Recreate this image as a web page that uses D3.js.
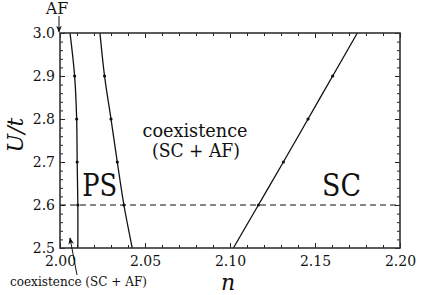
<!DOCTYPE html>
<html>
<head>
<meta charset="utf-8">
<script src="https://d3js.org/d3.v7.min.js"></script>
<style>
  body { margin: 0; background: #fff; }
  svg text { font-family: "DejaVu Serif"; fill: #111; }
</style>
</head>
<body>
<svg id="chart"></svg>
<script>
// phase boundaries (n at each U/t)
var uValues    = [2.5, 2.6, 2.7, 2.8, 2.9, 3.0];
var afBoundary = [2.0105, 2.0105, 2.0101, 2.0098, 2.0086, 2.0059];
var psBoundary = [2.0425, 2.0376, 2.0337, 2.0300, 2.0262, 2.0235];
var scBoundary = [2.1020, 2.1167, 2.1314, 2.1459, 2.1604, 2.1749];
var xTicks = [2.00, 2.05, 2.10, 2.15, 2.20];
var yTicks = [2.5, 2.6, 2.7, 2.8, 2.9, 3.0];
var cutU = 2.6;

var margin = {top: 33, right: 25, bottom: 47, left: 60},
    width = 425 - margin.left - margin.right,
    height = 295 - margin.top - margin.bottom;

var svg = d3.select("#chart")
    .attr("width", 425)
    .attr("height", 295);

svg.append("defs").append("marker")
    .attr("id", "arrow")
    .attr("viewBox", "0 0 10 10")
    .attr("refX", 9).attr("refY", 5)
    .attr("markerWidth", 7).attr("markerHeight", 7)
    .attr("markerUnits", "userSpaceOnUse")
    .attr("orient", "auto")
    .append("path")
    .attr("d", "M0,1 L10,5 L0,9 L3,5 Z")
    .attr("fill", "#111");

var g = svg.append("g")
    .attr("transform", "translate(" + margin.left + "," + margin.top + ")");

var x = d3.scaleLinear().domain([2.0, 2.2]).range([0, width]);
var y = d3.scaleLinear().domain([2.5, 3.0]).range([height, 0]);

var xMinor = d3.range(2.0, 2.2001, 0.01).filter(function(v) { return Math.abs(v * 20 - Math.round(v * 20)) > 1e-6; });
var yMinor = d3.range(2.5, 3.0001, 0.02).filter(function(v) { return Math.abs(v * 10 - Math.round(v * 10)) > 1e-6; });

function styleAxis(sel) {
  sel.attr("font-family", null);
  sel.select(".domain").remove();
  sel.selectAll("line").attr("stroke", "#222").attr("stroke-width", 1);
  sel.selectAll("text").style("font-size", "14px");
}

// minor ticks
g.append("g").attr("transform", "translate(0," + height + ")")
  .call(d3.axisBottom(x).tickValues(xMinor).tickSize(-3).tickFormat(""))
  .call(styleAxis);
g.append("g")
  .call(d3.axisTop(x).tickValues(xMinor).tickSize(-3).tickFormat(""))
  .call(styleAxis);
g.append("g")
  .call(d3.axisLeft(y).tickValues(yMinor).tickSize(-3).tickFormat(""))
  .call(styleAxis);
g.append("g").attr("transform", "translate(" + width + ",0)")
  .call(d3.axisRight(y).tickValues(yMinor).tickSize(-3).tickFormat(""))
  .call(styleAxis);

// major ticks
g.append("g").attr("transform", "translate(0," + height + ")")
  .call(d3.axisBottom(x).tickValues(xTicks).tickSize(-5).tickPadding(8).tickFormat(d3.format(".2f")))
  .call(styleAxis);
g.append("g")
  .call(d3.axisTop(x).tickValues(xTicks).tickSize(-5).tickFormat(""))
  .call(styleAxis);
g.append("g")
  .call(d3.axisLeft(y).tickValues(yTicks).tickSize(-5).tickPadding(5).tickFormat(d3.format(".1f")))
  .call(styleAxis);
g.append("g").attr("transform", "translate(" + width + ",0)")
  .call(d3.axisRight(y).tickValues(yTicks).tickSize(-5).tickFormat(""))
  .call(styleAxis);

// dashed cut
g.append("line")
  .attr("x1", 0).attr("x2", width)
  .attr("y1", y(cutU)).attr("y2", y(cutU))
  .attr("stroke", "#111").attr("stroke-width", 1.1)
  .attr("stroke-dasharray", "6,4");

var line = d3.line()
  .x(function(d) { return x(d[0]); })
  .y(function(d) { return y(d[1]); })
  .curve(d3.curveCatmullRom);

[afBoundary, psBoundary, scBoundary].forEach(function(ns) {
  var pts = ns.map(function(n, i) { return [n, uValues[i]]; });
  g.append("path").datum(pts)
    .attr("d", line)
    .attr("fill", "none")
    .attr("stroke", "#111")
    .attr("stroke-width", 1.3);
  g.selectAll(null).data(pts.slice(1, -1)).enter().append("circle")
    .attr("cx", function(d) { return x(d[0]); })
    .attr("cy", function(d) { return y(d[1]); })
    .attr("r", 1.6)
    .attr("fill", "#111");
});

// frame
g.append("rect")
  .attr("width", width).attr("height", height)
  .attr("fill", "none").attr("stroke", "#333").attr("stroke-width", 1.6);

// region labels
g.append("text").attr("x", x(2.0131)).attr("y", 163)
  .attr("textLength", 35).attr("lengthAdjust", "spacingAndGlyphs")
  .style("font-size", "31px").text("PS");
g.append("text").attr("x", x(2.1541)).attr("y", 163)
  .attr("textLength", 39).attr("lengthAdjust", "spacingAndGlyphs")
  .style("font-size", "31px").text("SC");
g.append("text").attr("x", 135).attr("y", 104)
  .attr("text-anchor", "middle").attr("textLength", 105).attr("lengthAdjust", "spacingAndGlyphs")
  .style("font-size", "18px").text("coexistence");
g.append("text").attr("x", 136).attr("y", 124)
  .attr("text-anchor", "middle").attr("textLength", 88).attr("lengthAdjust", "spacingAndGlyphs")
  .style("font-size", "18px").text("(SC + AF)");

// axis titles
svg.append("text").attr("x", 228).attr("y", 290)
  .attr("text-anchor", "middle").style("font-size", "22px").style("font-style", "italic").text("n");
svg.append("text")
  .attr("transform", "translate(23,135) rotate(-90)")
  .attr("text-anchor", "middle").style("font-size", "22px").style("font-style", "italic").text("U/t");

// annotations
svg.append("text").attr("x", 57).attr("y", 14)
  .attr("text-anchor", "middle").style("font-size", "16px").text("AF");
svg.append("line")
  .attr("x1", 59).attr("y1", 16).attr("x2", 59).attr("y2", 32)
  .attr("stroke", "#111").attr("stroke-width", 1)
  .attr("marker-end", "url(#arrow)");

svg.append("text").attr("x", 10).attr("y", 286)
  .attr("textLength", 137).attr("lengthAdjust", "spacingAndGlyphs")
  .style("font-size", "13px").text("coexistence (SC + AF)");
svg.append("line")
  .attr("x1", 77).attr("y1", 275).attr("x2", 70).attr("y2", 238)
  .attr("stroke", "#111").attr("stroke-width", 1)
  .attr("marker-end", "url(#arrow)");
</script>
</body>
</html>
